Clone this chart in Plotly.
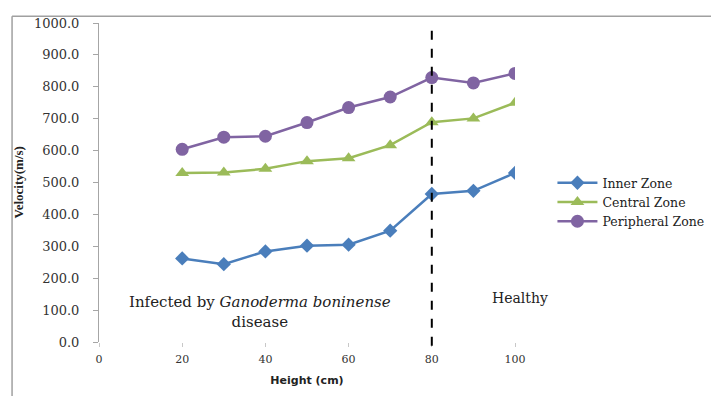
import plotly.graph_objects as go

heights = [20, 30, 40, 50, 60, 70, 80, 90, 100]
inner_zone = [262, 244, 284, 302, 305, 349, 464, 474, 530]
central_zone = [530, 531, 543, 567, 576, 617, 689, 701, 750]
peripheral_zone = [604, 642, 645, 688, 735, 768, 829, 812, 842]
y_ticks = [0, 100, 200, 300, 400, 500, 600, 700, 800, 900, 1000]
x_ticks = [0, 20, 40, 60, 80, 100]
divider_x = 80

fig = go.Figure()
fig.add_trace(go.Scatter(x=heights, y=inner_zone, name="Inner Zone", mode="lines+markers",
                         line=dict(color="#4A7EBB", width=2.5),
                         marker=dict(symbol="diamond", size=11, color="#4A7EBB")))
fig.add_trace(go.Scatter(x=heights, y=central_zone, name="Central Zone", mode="lines+markers",
                         line=dict(color="#9BBB59", width=2.5),
                         marker=dict(symbol="triangle-up", size=12, color="#9BBB59")))
fig.add_trace(go.Scatter(x=heights, y=peripheral_zone, name="Peripheral Zone", mode="lines+markers",
                         line=dict(color="#8064A2", width=2.5),
                         marker=dict(symbol="circle", size=13, color="#8064A2")))

fig.update_layout(
    width=719, height=396,
    margin=dict(l=91, r=212, t=8, b=62),
    plot_bgcolor="white", paper_bgcolor="white",
    showlegend=True,
    legend=dict(x=1.09, y=0.545, xanchor="left", yanchor="top",
                font=dict(family="DejaVu Serif", size=12.5, color="#222"),
                bgcolor="rgba(0,0,0,0)", tracegroupgap=2, itemwidth=40),
    xaxis=dict(range=[0, 100], tickvals=x_ticks, ticktext=[str(v) for v in x_ticks],
               showgrid=False, zeroline=False, showline=False,
               ticks="outside", ticklen=4, tickcolor="#c8c8c8",
               tickfont=dict(family="DejaVu Serif", size=11, color="#333"),
               ticklabelstandoff=3,
               title=dict(text="<b>Height (cm)</b>", font=dict(family="DejaVu Sans", size=11, color="#222"),
                          standoff=11)),
    yaxis=dict(range=[0, 1000], tickvals=y_ticks, ticktext=[f"{v:.1f}" for v in y_ticks],
               showgrid=False, zeroline=False, showline=True, linecolor="#a6a6a6", linewidth=1,
               ticks="outside", ticklen=5, tickcolor="#a6a6a6",
               tickfont=dict(family="DejaVu Serif", size=13, color="#333"),
               ticklabelstandoff=11),
)

# dashed divider
fig.add_shape(type="line", xref="x", yref="paper", x0=divider_x, x1=divider_x, y0=-0.012, y1=0.98,
              line=dict(color="black", width=2, dash="dash"))

# outer frame (left and top edges)
fig.add_shape(type="line", xref="paper", yref="paper", x0=-0.209, x1=1.5, y0=1.021, y1=1.021,
              line=dict(color="#a0a0a0", width=1.5))
fig.add_shape(type="line", xref="paper", yref="paper", x0=-0.209, x1=-0.209, y0=-0.2, y1=1.021,
              line=dict(color="#a0a0a0", width=1.5))

fig.add_annotation(text="<b>Velocity(m/s)</b>", textangle=-90, xref="paper", yref="paper",
                   x=(18 - 99) / 416, y=0.5, xanchor="center", yanchor="middle", showarrow=False,
                   font=dict(family="Liberation Serif", size=13, color="#222"))
fig.add_annotation(text="Infected by <i>Ganoderma boninense</i><br>disease", xref="paper", yref="paper",
                   x=(260 - 99) / 416, y=(342 - 311) / 326, xanchor="center", yanchor="middle",
                   showarrow=False, align="center",
                   font=dict(family="DejaVu Serif", size=15, color="#222"))
fig.add_annotation(text="Healthy", xref="paper", yref="paper",
                   x=(520 - 99) / 416, y=(342 - 297) / 326, xanchor="center", yanchor="middle",
                   showarrow=False,
                   font=dict(family="DejaVu Serif", size=14, color="#222"))

fig.write_html("out.html")
